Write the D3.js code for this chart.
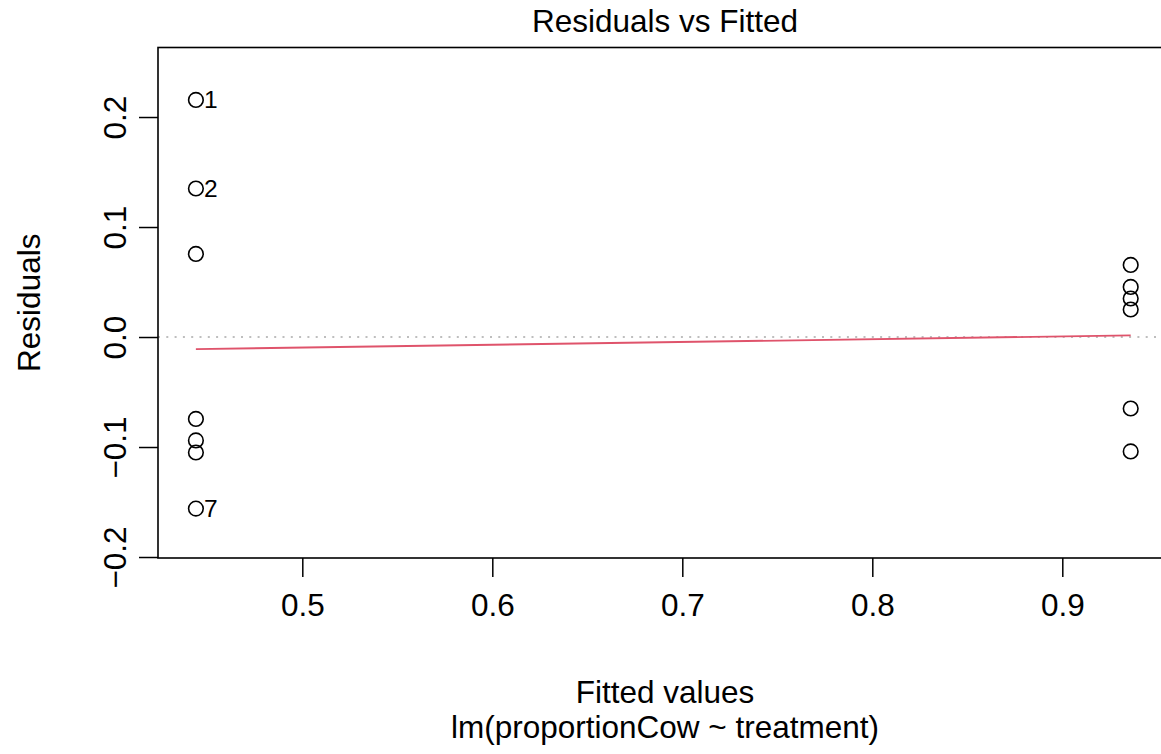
<!DOCTYPE html>
<html>
<head>
<meta charset="utf-8">
<script src="https://cdn.jsdelivr.net/npm/d3@7"></script>
<style>
  html, body { margin: 0; padding: 0; background: #fff; }
  svg { display: block; font-family: "Liberation Sans", Arial, Helvetica, sans-serif; }
</style>
</head>
<body>
<svg id="chart" width="1161" height="754"></svg>
<script>
// ---- data ----
const fitted = [0.444, 0.444, 0.444, 0.444, 0.444, 0.444, 0.444,
                0.936, 0.936, 0.936, 0.936, 0.936, 0.936];
const residuals = [0.2155, 0.135, 0.0755, -0.0745, -0.094, -0.105, -0.156,
                   0.0655, 0.0455, 0.035, 0.025, -0.065, -0.104];
const pointLabels = ["1", "2", "", "", "", "", "7", "", "", "", "", "", ""];
const smoothX = [0.444, 0.936];
const smoothY = [-0.011, 0.0015];
const xTicks = [0.5, 0.6, 0.7, 0.8, 0.9];
const yTicks = [-0.2, -0.1, 0.0, 0.1, 0.2];
const xDomain = [0.42405, 0.953];
const yDomain = [-0.2009, 0.2632];
const title = "Residuals vs Fitted";
const xLabel = "Fitted values";
const subLabel = "lm(proportionCow ~ treatment)";
const yLabel = "Residuals";

// ---- layout ----
const W = 1161, H = 754;
const L = 158, R = 1163, T = 47.5, B = 558;
const FS = 31.5;
const CX = 665;

const svg = d3.select("#chart");
const x = d3.scaleLinear().domain(xDomain).range([L, R]);
const y = d3.scaleLinear().domain(yDomain).range([B, T]);

// zero reference line (dotted grey)
svg.append("line")
  .attr("x1", L).attr("x2", R)
  .attr("y1", y(0)).attr("y2", y(0))
  .attr("stroke", "#bebebe").attr("stroke-width", 2)
  .attr("stroke-dasharray", "2,6.3");

// smooth line
svg.append("path")
  .datum(smoothX.map((d, i) => [d, smoothY[i]]))
  .attr("d", d3.line().x(d => x(d[0])).y(d => y(d[1])))
  .attr("fill", "none").attr("stroke", "#DF536B").attr("stroke-width", 1.8);

// points
const pts = fitted.map((d, i) => ({ f: d, r: residuals[i], lab: pointLabels[i] }));
svg.append("g").selectAll("circle")
  .data(pts)
  .join("circle")
  .attr("cx", d => x(d.f)).attr("cy", d => y(d.r)).attr("r", 7.3)
  .attr("fill", "none").attr("stroke", "#000").attr("stroke-width", 1.6);

// point labels
svg.append("g").selectAll("text")
  .data(pts.filter(d => d.lab))
  .join("text")
  .attr("x", d => x(d.f) + 8).attr("y", d => y(d.r) + 8)
  .attr("font-size", FS * 0.78).attr("fill", "#000")
  .text(d => d.lab);

// box
svg.append("rect")
  .attr("x", L).attr("y", T).attr("width", R - L).attr("height", B - T)
  .attr("fill", "none").attr("stroke", "#000").attr("stroke-width", 1.6);

// x axis
const gx = svg.append("g").attr("transform", `translate(0,${B})`)
  .call(d3.axisBottom(x).tickValues(xTicks).tickSize(19).tickSizeOuter(0)
        .tickFormat(d3.format(".1f")));
gx.select(".domain").remove();
gx.selectAll(".tick line").attr("stroke", "#000").attr("stroke-width", 1.5);
gx.selectAll(".tick text").attr("font-size", FS).attr("fill", "#000")
  .attr("font-family", "Liberation Sans, Arial, sans-serif")
  .attr("dy", null).attr("y", 58);

// y axis
const gy = svg.append("g").attr("transform", `translate(${L},0)`)
  .call(d3.axisLeft(y).tickValues(yTicks).tickSize(19).tickSizeOuter(0)
        .tickFormat(d => d3.format(".1f")(d).replace("-", "\u2212")));
gy.select(".domain").remove();
gy.selectAll(".tick line").attr("stroke", "#000").attr("stroke-width", 1.5);
gy.selectAll(".tick text").attr("font-size", FS).attr("fill", "#000")
  .attr("font-family", "Liberation Sans, Arial, sans-serif")
  .attr("x", null).attr("dy", null)
  .attr("text-anchor", "middle")
  .attr("transform", "translate(-32,0) rotate(-90)");

// title
svg.append("text").attr("x", CX).attr("y", 32)
  .attr("text-anchor", "middle").attr("font-size", FS).text(title);

// x label & sub
svg.append("text").attr("x", CX).attr("y", 703)
  .attr("text-anchor", "middle").attr("font-size", FS).text(xLabel);
svg.append("text").attr("x", CX).attr("y", 738)
  .attr("text-anchor", "middle").attr("font-size", FS).text(subLabel);

// y label
svg.append("text")
  .attr("transform", `translate(40,${(T + B) / 2}) rotate(-90)`)
  .attr("text-anchor", "middle").attr("font-size", FS).text(yLabel);
</script>
</body>
</html>
